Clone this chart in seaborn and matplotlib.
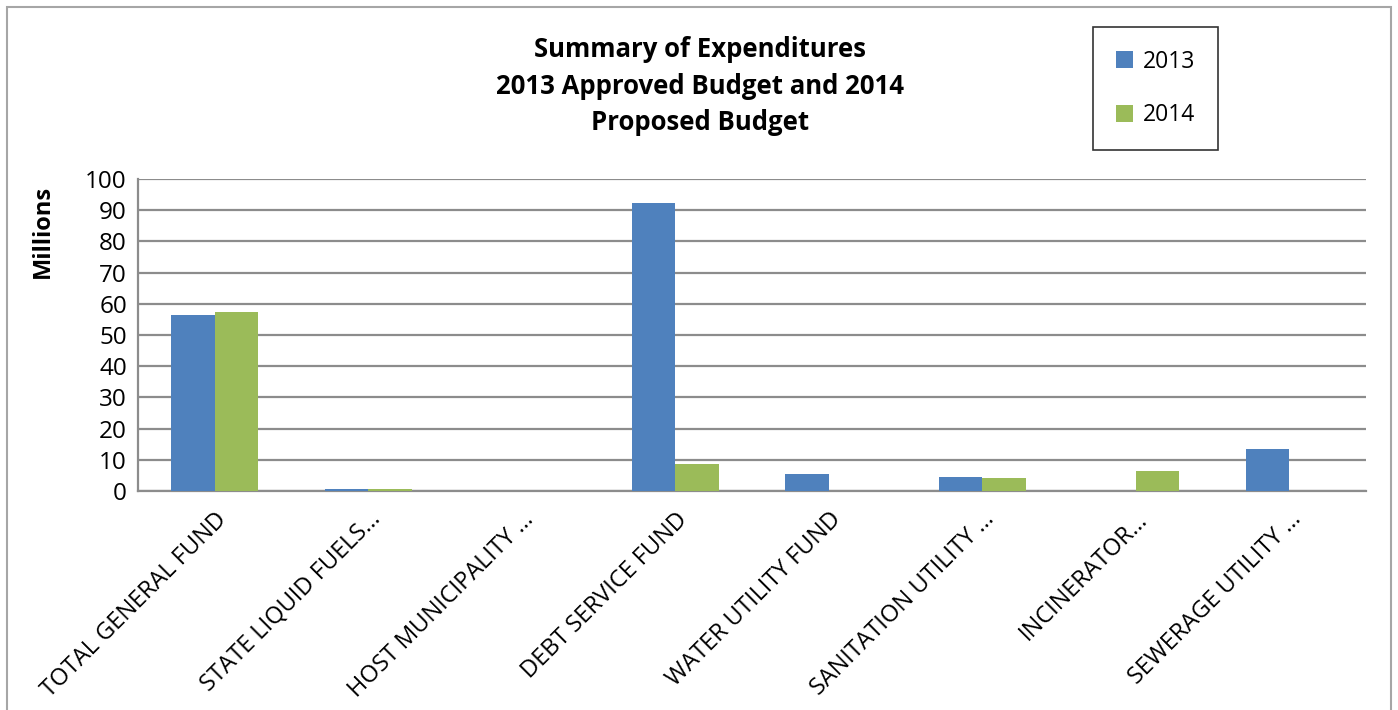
import matplotlib
matplotlib.use("Agg")
import matplotlib.pyplot as plt
import seaborn as sns
import pandas as pd
from matplotlib.patches import Rectangle

categories = ["TOTAL GENERAL FUND", "STATE LIQUID FUELS…", "HOST MUNICIPALITY …",
              "DEBT SERVICE FUND", "WATER UTILITY FUND", "SANITATION UTILITY …",
              "INCINERATOR…", "SEWERAGE UTILITY …"]
values_2013 = [56.4, 0.8, 0.0, 92.2, 5.6, 4.5, 0.0, 13.5]
values_2014 = [57.4, 0.7, 0.0, 8.7, 0.0, 4.2, 6.4, 0.0]
years = ["2013", "2014"]
y_ticks = [0, 10, 20, 30, 40, 50, 60, 70, 80, 90, 100]

df = pd.DataFrame({
    "category": categories * 2,
    "value": values_2013 + values_2014,
    "year": [years[0]] * len(categories) + [years[1]] * len(categories),
})

sns.set_theme(style="white")
plt.rcParams["font.family"] = ["Open Sans", "DejaVu Sans"]
plt.rcParams["text.color"] = "black"

fig = plt.figure(figsize=(13.98, 7.10), dpi=100)
ax = fig.add_axes([138 / 1398, 1 - 491 / 710, (1366 - 138) / 1398, (491 - 179) / 710])

palette = {"2013": "#4F81BD", "2014": "#9BBB59"}
sns.barplot(data=df, x="category", y="value", hue="year", palette=palette,
            width=0.57, saturation=1, ax=ax, zorder=3, legend=True, linewidth=0)

ax.set_ylim(0, 100)
ax.set_xlim(-0.5, len(categories) - 0.5)
ax.set_yticks(y_ticks)
ax.yaxis.grid(True, color="#8c8c8c", linewidth=1.6, zorder=0)
ax.set_axisbelow(True)
for s in ["top", "right"]:
    ax.spines[s].set_visible(False)
for s in ["left", "bottom"]:
    ax.spines[s].set_color("#8c8c8c")
    ax.spines[s].set_linewidth(1.6)
ax.tick_params(axis="both", length=0, labelsize=17.5, colors="black")
ax.tick_params(axis="y", pad=8)
ax.set_xlabel("")
ax.set_ylabel("Millions", fontsize=17, fontweight="bold", color="black")
ax.yaxis.set_label_coords((43 - 138) / 1228, (491 - 231) / 312)
ax.yaxis.label.set_va("center")
ax.set_xticks(range(len(categories)))
ax.set_xticklabels(categories, rotation=45, ha="right", rotation_mode="anchor", fontsize=17)
ax.tick_params(axis="x", pad=12)

fig.text(0.5005, 1 - 86 / 710, "Summary of Expenditures\n2013 Approved Budget and 2014\nProposed Budget",
         ha="center", va="center", fontsize=18.5, fontweight="bold", linespacing=1.45, color="black")

leg = ax.legend(loc="center", bbox_to_anchor=(1093 / 1398, 1 - 141 / 710, 125 / 1398, 105 / 710),
                bbox_transform=fig.transFigure, frameon=True, fancybox=False,
                fontsize=16.5, handlelength=0.75, handleheight=0.75, labelspacing=1.3,
                borderpad=1.0, handletextpad=0.4, borderaxespad=0)
leg.get_frame().set_edgecolor("black")
leg.get_frame().set_linewidth(1.2)
for t in leg.get_texts():
    t.set_color("black")

fig.patches.append(Rectangle((7 / 1398, -0.05), 1384 / 1398, 1.05 - 7 / 710,
                             transform=fig.transFigure, fill=False, edgecolor="#a6a6a6", linewidth=1.5))

fig.savefig("out.png", dpi=100)
